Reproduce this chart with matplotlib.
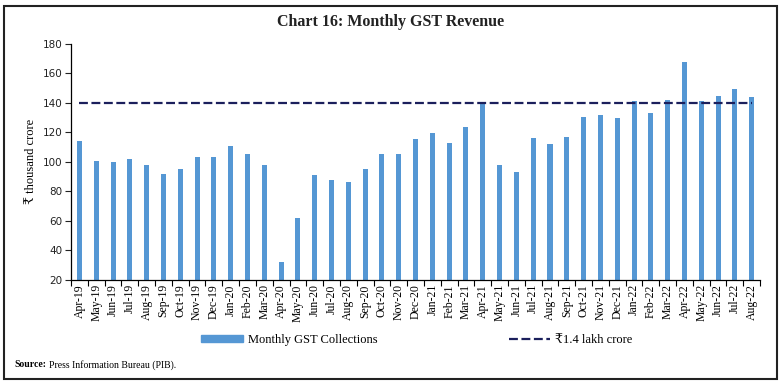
import numpy as np
import matplotlib.pyplot as plt
from matplotlib.patches import Rectangle
from matplotlib.lines import Line2D

months = ['Apr-19', 'May-19', 'Jun-19', 'Jul-19', 'Aug-19', 'Sep-19', 'Oct-19', 'Nov-19',
          'Dec-19', 'Jan-20', 'Feb-20', 'Mar-20', 'Apr-20', 'May-20', 'Jun-20', 'Jul-20',
          'Aug-20', 'Sep-20', 'Oct-20', 'Nov-20', 'Dec-20', 'Jan-21', 'Feb-21', 'Mar-21',
          'Apr-21', 'May-21', 'Jun-21', 'Jul-21', 'Aug-21', 'Sep-21', 'Oct-21', 'Nov-21',
          'Dec-21', 'Jan-22', 'Feb-22', 'Mar-22', 'Apr-22', 'May-22', 'Jun-22', 'Jul-22',
          'Aug-22']
gst = [113.9, 100.3, 99.9, 102.1, 98.2, 92.0, 95.4, 103.5, 103.2, 110.8, 105.4, 97.6,
       32.2, 62.2, 90.9, 87.4, 86.4, 95.5, 105.2, 105.0, 115.2, 119.8, 113.1, 123.9,
       139.7, 97.8, 92.8, 116.4, 112.0, 117.0, 130.1, 131.5, 129.8, 141.0, 133.0, 142.1,
       167.5, 140.9, 144.6, 149.0, 143.6]
threshold = 140

serif = ['Liberation Serif', 'DejaVu Serif']
bar_color = '#5597d4'
line_color = '#1b1f5c'

fig = plt.figure(figsize=(7.82, 3.85), dpi=100)
ax = fig.add_axes([0.0908, 0.2727, 0.8812, 0.6138])

x = np.arange(len(months))
ax.bar(x, gst, width=0.3, color=bar_color, zorder=2)
ax.plot([x[0], x[-1]], [threshold, threshold], color=line_color, lw=1.6,
        dashes=(4, 1.6), zorder=3)

ax.set_xlim(-0.5, len(months) - 0.5)
ax.set_ylim(20, 180)
ax.set_yticks(np.arange(20, 181, 20))
ax.tick_params(axis='y', labelsize=7.5, length=4, width=0.8, pad=2, colors='#222222')

# category boundaries as ticks, labels at bar centres
ax.set_xticks(np.arange(-0.5, len(months), 1))
ax.set_xticklabels([])
ax.set_xticks(x, minor=True)
ax.set_xticklabels(months, minor=True, rotation=90, family=serif, fontsize=8.5)
ax.tick_params(axis='x', which='major', length=4, width=0.8)
ax.tick_params(axis='x', which='minor', length=0, pad=3)

for s in ['top', 'right']:
    ax.spines[s].set_visible(False)
for s in ['left', 'bottom']:
    ax.spines[s].set_linewidth(0.9)

ax.set_ylabel('₹ thousand crore', family=serif, fontsize=9, labelpad=4)

fig.text(0.5, 0.943, 'Chart 16: Monthly GST Revenue', ha='center', va='center',
         family=serif, fontsize=11.5, fontweight='bold', color='#222222')

handles = [Rectangle((0, 0), 1, 1, color=bar_color),
           Line2D([0], [0], color=line_color, lw=1.6, dashes=(4, 1.6))]
fig.legend(handles, ['Monthly GST Collections', '₹1.4 lakh crore'], ncol=2,
           loc='center', bbox_to_anchor=(0.533, 0.117), frameon=False,
           prop={'family': serif, 'size': 9}, handlelength=3.3, handleheight=0.55,
           columnspacing=10.5, handletextpad=0.4)

fig.text(0.019, 0.052, 'Source:', family=serif, fontsize=7, fontweight='bold', va='center')
fig.text(0.063, 0.052, 'Press Information Bureau (PIB).', family=serif, fontsize=7, va='center')

fig.add_artist(Rectangle((0.005, 0.015), 0.988, 0.97, transform=fig.transFigure,
                         fill=False, edgecolor='#222222', lw=1.5))

fig.savefig('out.png', dpi=100)
